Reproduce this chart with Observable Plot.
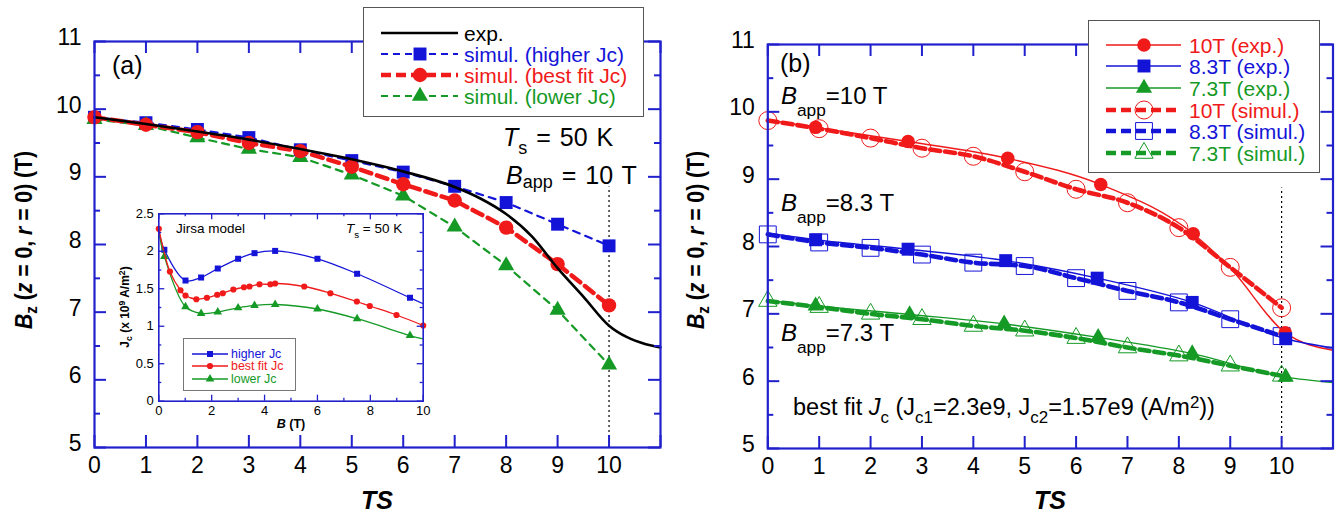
<!DOCTYPE html>
<html>
<head>
<meta charset="utf-8">
<script src="https://cdn.jsdelivr.net/npm/d3@7"></script>
<script src="https://cdn.jsdelivr.net/npm/@observablehq/plot@0.6"></script>
<style>
  body { margin: 0; background: #fff; }
  #fig { position: relative; width: 1339px; height: 517px; overflow: hidden;
         font-family: "Liberation Sans", Arial, sans-serif; color: #000; background: #fff; }
  #fig svg { position: absolute; overflow: visible; }
  .t { position: absolute; white-space: nowrap; line-height: 1; transform: translateY(-50%); }
  .t sub, .t sup { font-size: 0.72em; line-height: 0; }
  .box { position: absolute; background: #fff; box-sizing: border-box; }
</style>
</head>
<body>
<div id="fig"></div>
<script>
// ---------- Panel (a): simulated vs. measured centre field, T_s = 50 K, B_app = 10 T ----------
const tsSim       = [0, 1, 2, 3, 4, 5, 6, 7, 8, 9, 10];
const bzHigherJc  = [9.88, 9.80, 9.70, 9.58, 9.40, 9.24, 9.07, 8.86, 8.62, 8.30, 7.98];
const bzBestFitJc = [9.88, 9.77, 9.66, 9.50, 9.38, 9.15, 8.89, 8.65, 8.25, 7.71, 7.10];
const bzLowerJc   = [9.85, 9.76, 9.58, 9.41, 9.29, 9.03, 8.72, 8.26, 7.69, 7.03, 6.22];
const tsExpA = [0, 1, 2, 3, 4, 5, 6, 7, 7.5, 8, 8.5, 9, 9.5, 10, 10.35, 10.7, 11];
const bzExpA = [9.88, 9.78, 9.67, 9.55, 9.41, 9.26, 9.08, 8.85, 8.68, 8.45, 8.12, 7.65, 7.23, 6.80, 6.63, 6.53, 6.48];

// ---------- Inset: Jc(B) curves of the Jirsa model ----------
const higherB  = [0.21, 1.01, 1.60, 2.23, 3.00, 3.62, 4.40, 6.00, 7.50, 9.50];
const higherJc = [2.02, 1.61, 1.65, 1.77, 1.90, 1.975, 2.005, 1.90, 1.70, 1.38];
const higherEnds = [[0, 2.27], [10, 1.30]];
const bestB  = [0, 0.42, 0.82, 1.01, 1.42, 1.82, 2.21, 2.42, 2.82, 3.22, 3.43, 3.81, 4.22, 4.40, 5.50, 6.49, 7.49, 7.98, 8.99, 10];
const bestJc = [2.30, 1.73, 1.48, 1.41, 1.36, 1.38, 1.42, 1.44, 1.49, 1.52, 1.53, 1.56, 1.56, 1.57, 1.53, 1.44, 1.33, 1.27, 1.15, 1.01];
const lowerB  = [0.21, 1.01, 1.60, 2.23, 3.00, 3.62, 4.40, 6.00, 7.50, 9.50];
const lowerJc = [1.93, 1.26, 1.17, 1.19, 1.245, 1.277, 1.29, 1.23, 1.10, 0.876];
const lowerEnds = [[0, 2.27], [10, 0.83]];

// ---------- Panel (b): three applied fields, measured and simulated ----------
const tsExp10 = [0.93, 2.73, 4.67, 6.48, 8.28, 10.07];
const bzExp10 = [9.77, 9.56, 9.31, 8.92, 8.19, 6.72];
const tsExp83 = [0.93, 2.73, 4.63, 6.41, 8.26, 10.08];
const bzExp83 = [8.10, 7.96, 7.79, 7.53, 7.17, 6.63];
const tsExp73 = [0.93, 2.76, 4.60, 6.43, 8.26, 10.08];
const bzExp73 = [7.12, 6.99, 6.85, 6.65, 6.41, 6.06];
// smooth curves through the measurements, carried to both frame edges
const fitTs10 = [0, 0.93, 2.73, 4.67, 6.48, 8.28, 9.0, 10.07, 11];
const fitBz10 = [9.88, 9.77, 9.56, 9.31, 8.92, 8.19, 7.68, 6.72, 6.46];
const fitTs83 = [0, 0.93, 2.73, 4.63, 6.41, 8.26, 10.08, 11];
const fitBz83 = [8.20, 8.10, 7.96, 7.79, 7.53, 7.17, 6.63, 6.49];
const fitTs73 = [0, 0.93, 2.76, 4.60, 6.43, 8.26, 10.08, 11];
const fitBz73 = [7.20, 7.12, 6.99, 6.85, 6.65, 6.41, 6.06, 5.98];
const bzSim10 = [9.87, 9.75, 9.61, 9.46, 9.34, 9.11, 8.85, 8.65, 8.28, 7.69, 7.09];
const bzSim83 = [8.18, 8.06, 7.98, 7.88, 7.76, 7.71, 7.53, 7.34, 7.17, 6.92, 6.67];
const bzSim73 = [7.19, 7.10, 7.00, 6.92, 6.82, 6.75, 6.64, 6.50, 6.38, 6.23, 6.08];

// axis ticks
const tsTicks = [0, 1, 2, 3, 4, 5, 6, 7, 8, 9, 10];
const tsTickMarks = [0, 1, 2, 3, 4, 5, 6, 7, 8, 9, 10, 11];
const bzTicks = [5, 6, 7, 8, 9, 10, 11];
const bzMinor = [5.5, 6.5, 7.5, 8.5, 9.5, 10.5];
const bTicks = [0, 2, 4, 6, 8, 10];
const bMinor = [1, 3, 5, 7, 9];
const jcTicks = [0, 0.5, 1, 1.5, 2, 2.5];
const jcMinor = [0.25, 0.75, 1.25, 1.75, 2.25];
// last simulated step and the top of its guide line in each panel
const lastStep = 10, guideTopA = 8.85, guideTopB = 8.87;

// ---------- styling ----------
const FONT = '"Liberation Sans", Arial, sans-serif';
const AXIS = "#2020cc";
const RED = "#f01a1a", BLUE = "#1414d8", GREEN = "#169a26";
const fig = document.getElementById("fig");
const plain = d => String(d);

const pts = (xs, ys) => xs.map((x, i) => ({x, y: ys[i]}));

function frameTicks({xMajor, xMinor = [], yMajor, yMinor = [], iw, ih, major, minor, sw}) {
  const s = {stroke: AXIS, strokeWidth: sw};
  return [
    Plot.tickX(xMajor, {x: d => d, insetTop: ih - major, ...s}),
    Plot.tickX(xMajor, {x: d => d, insetBottom: ih - major, ...s}),
    Plot.tickX(xMinor, {x: d => d, insetTop: ih - minor, ...s}),
    Plot.tickX(xMinor, {x: d => d, insetBottom: ih - minor, ...s}),
    Plot.tickY(yMajor, {y: d => d, insetRight: iw - major, ...s}),
    Plot.tickY(yMajor, {y: d => d, insetLeft: iw - major, ...s}),
    Plot.tickY(yMinor, {y: d => d, insetRight: iw - minor, ...s}),
    Plot.tickY(yMinor, {y: d => d, insetLeft: iw - minor, ...s})
  ];
}

function place(svg, left, top) {
  svg.style.left = left + "px";
  svg.style.top = top + "px";
  fig.appendChild(svg);
}

function text(html, x, y, size, extra = "") {
  const d = document.createElement("div");
  d.className = "t";
  d.style.cssText = `left:${x}px;top:${y}px;font-size:${size}px;${extra}`;
  d.innerHTML = html;
  fig.appendChild(d);
  return d;
}

// ---------- panel (a) ----------
const A = {width: 670, height: 517, ml: 94, mr: 10, mt: 41, mb: 70};
const aiw = A.width - A.ml - A.mr, aih = A.height - A.mt - A.mb;
const simHigher = pts(tsSim, bzHigherJc), simBest = pts(tsSim, bzBestFitJc), simLower = pts(tsSim, bzLowerJc);
const expA = pts(tsExpA, bzExpA);

const plotA = Plot.plot({
  width: A.width, height: A.height,
  marginLeft: A.ml, marginRight: A.mr, marginTop: A.mt, marginBottom: A.mb,
  x: {domain: [0, 11]}, y: {domain: [5, 11]},
  style: {fontFamily: FONT, background: "none", overflow: "visible"},
  marks: [
    Plot.ruleX([lastStep], {y1: 5, y2: guideTopA, stroke: "#000", strokeWidth: 1.2, strokeDasharray: "2,3"}),
    Plot.line(simHigher, {x: "x", y: "y", stroke: BLUE, strokeWidth: 2.2, strokeDasharray: "7,6"}),
    Plot.dot(simHigher, {x: "x", y: "y", symbol: "square", r: 7.3, fill: BLUE}),
    Plot.line(simLower, {x: "x", y: "y", stroke: GREEN, strokeWidth: 2.2, strokeDasharray: "7,6"}),
    Plot.dot(simLower, {x: "x", y: "y", symbol: "triangle", r: 6, fill: GREEN}),
    Plot.line(simBest, {x: "x", y: "y", stroke: RED, strokeWidth: 4.5, strokeDasharray: "11,6"}),
    Plot.dot(simBest, {x: "x", y: "y", symbol: "circle", r: 7.2, fill: RED}),
    Plot.line(expA, {x: "x", y: "y", curve: "monotone-x", stroke: "#000", strokeWidth: 2.6}),
    ...frameTicks({xMajor: tsTickMarks, yMajor: bzTicks, yMinor: bzMinor, iw: aiw, ih: aih, major: 12, minor: 6, sw: 2}),
    Plot.frame({stroke: AXIS, strokeWidth: 2.2}),
    Plot.axisX(tsTicks, {anchor: "bottom", tickSize: 0, tickPadding: 9, fontSize: 23, label: null, tickFormat: plain}),
    Plot.axisY(bzTicks, {anchor: "left", tickSize: 0, tickPadding: 13, fontSize: 23, label: null, dy: -4, tickFormat: plain})
  ]
});
place(plotA, 0, 0);

// ---------- inset of panel (a) ----------
const I = {left: 100, top: 200, width: 330, height: 240, ml: 58.3, mr: 7.3, mt: 13.3, mb: 39.3};
const iiw = I.width - I.ml - I.mr, iih = I.height - I.mt - I.mb;
const hiPts = pts(higherB, higherJc), bestPts = pts(bestB, bestJc), loPts = pts(lowerB, lowerJc);
const hiLine = [{x: higherEnds[0][0], y: higherEnds[0][1]}, ...hiPts, {x: higherEnds[1][0], y: higherEnds[1][1]}];
const loLine = [{x: lowerEnds[0][0], y: lowerEnds[0][1]}, ...loPts, {x: lowerEnds[1][0], y: lowerEnds[1][1]}];

const inset = Plot.plot({
  width: I.width, height: I.height,
  marginLeft: I.ml, marginRight: I.mr, marginTop: I.mt, marginBottom: I.mb,
  x: {domain: [0, 10]}, y: {domain: [0, 2.5]},
  style: {fontFamily: FONT, background: "none", overflow: "visible"},
  marks: [
    Plot.frame({fill: "#fff"}),
    Plot.line(hiLine, {x: "x", y: "y", curve: "catmull-rom", stroke: BLUE, strokeWidth: 1.3}),
    Plot.dot(hiPts, {x: "x", y: "y", symbol: "square", r: 3.4, fill: BLUE}),
    Plot.line(loLine, {x: "x", y: "y", curve: "catmull-rom", stroke: GREEN, strokeWidth: 1.3}),
    Plot.dot(loPts, {x: "x", y: "y", symbol: "triangle", r: 3.2, fill: GREEN}),
    Plot.line(bestPts, {x: "x", y: "y", curve: "catmull-rom", stroke: RED, strokeWidth: 1.3}),
    Plot.dot(bestPts, {x: "x", y: "y", symbol: "circle", r: 3.1, fill: RED}),
    ...frameTicks({xMajor: bTicks, xMinor: bMinor, yMajor: jcTicks, yMinor: jcMinor, iw: iiw, ih: iih, major: 6, minor: 3, sw: 1.3}),
    Plot.frame({stroke: AXIS, strokeWidth: 1.6}),
    Plot.axisX(bTicks, {anchor: "bottom", tickSize: 0, tickPadding: 5, fontSize: 13, label: null, tickFormat: plain}),
    Plot.axisY(jcTicks, {anchor: "left", tickSize: 0, tickPadding: 5, fontSize: 13, label: null, tickFormat: plain})
  ]
});
place(inset, I.left, I.top);

// ---------- panel (b) ----------
const B = {left: 670, width: 669, height: 517, ml: 97.3, mr: 6.5, mt: 44, mb: 69};
const biw = B.width - B.ml - B.mr, bih = B.height - B.mt - B.mb;
const sim10 = pts(tsSim, bzSim10), sim83 = pts(tsSim, bzSim83), sim73 = pts(tsSim, bzSim73);
const exp10 = pts(tsExp10, bzExp10), exp83 = pts(tsExp83, bzExp83), exp73 = pts(tsExp73, bzExp73);
const fit10 = pts(fitTs10, fitBz10), fit83 = pts(fitTs83, fitBz83), fit73 = pts(fitTs73, fitBz73);
const dash = {strokeWidth: 4.6, strokeDasharray: "10,5", curve: "monotone-x"};

const plotB = Plot.plot({
  width: B.width, height: B.height,
  marginLeft: B.ml, marginRight: B.mr, marginTop: B.mt, marginBottom: B.mb,
  x: {domain: [0, 11]}, y: {domain: [5, 11]},
  style: {fontFamily: FONT, background: "none", overflow: "visible"},
  marks: [
    Plot.ruleX([lastStep], {y1: 5, y2: guideTopB, stroke: "#000", strokeWidth: 1.2, strokeDasharray: "2,3"}),
    Plot.line(sim73, {x: "x", y: "y", stroke: GREEN, ...dash}),
    Plot.line(sim83, {x: "x", y: "y", stroke: BLUE, ...dash}),
    Plot.line(sim10, {x: "x", y: "y", stroke: RED, ...dash}),
    Plot.dot(sim73, {x: "x", y: "y", symbol: "triangle", r: 6.8, fill: "none", stroke: GREEN, strokeWidth: 1}),
    Plot.dot(sim83, {x: "x", y: "y", symbol: "square", r: 9.5, fill: "none", stroke: BLUE, strokeWidth: 1}),
    Plot.dot(sim10, {x: "x", y: "y", symbol: "circle", r: 9, fill: "none", stroke: RED, strokeWidth: 1}),
    Plot.line(fit73, {x: "x", y: "y", curve: "monotone-x", stroke: GREEN, strokeWidth: 1.4}),
    Plot.line(fit10, {x: "x", y: "y", curve: "monotone-x", stroke: RED, strokeWidth: 1.4}),
    Plot.line(fit83, {x: "x", y: "y", curve: "monotone-x", stroke: BLUE, strokeWidth: 1.4}),
    Plot.dot(exp73, {x: "x", y: "y", symbol: "triangle", r: 6, fill: GREEN}),
    Plot.dot(exp10, {x: "x", y: "y", symbol: "circle", r: 6.8, fill: RED}),
    Plot.dot(exp83, {x: "x", y: "y", symbol: "square", r: 7.3, fill: BLUE}),
    ...frameTicks({xMajor: tsTickMarks, yMajor: bzTicks, yMinor: bzMinor, iw: biw, ih: bih, major: 12, minor: 6, sw: 2}),
    Plot.frame({stroke: AXIS, strokeWidth: 2.2}),
    Plot.axisX(tsTicks, {anchor: "bottom", tickSize: 0, tickPadding: 9, fontSize: 23, label: null, tickFormat: plain}),
    Plot.axisY(bzTicks, {anchor: "left", tickSize: 0, tickPadding: 13, fontSize: 23, label: null, dy: -4, tickFormat: plain})
  ]
});
place(plotB, B.left, 0);

// ---------- legends ----------
function legend(entries, o) {
  const box = document.createElement("div");
  box.className = "box";
  box.style.cssText = `left:${o.left}px;top:${o.top}px;width:${o.width}px;height:${o.height}px;border:${o.border};`;
  fig.appendChild(box);
  entries.forEach((e, i) => {
    const cy = o.rowTop + i * o.rowGap;
    const w = o.lineX1 - o.lineX0;
    const svg = d3.create("svg").attr("width", w).attr("height", 24)
      .style("left", (o.lineX0 - o.left) + "px").style("top", (cy - o.top - 12) + "px");
    svg.append("line").attr("x1", 0).attr("x2", w).attr("y1", 12).attr("y2", 12)
      .attr("stroke", e.stroke).attr("stroke-width", e.width)
      .attr("stroke-dasharray", e.dash || null);
    if (e.symbol) {
      svg.append("path")
        .attr("d", d3.symbol(e.symbol, Math.PI * e.r * e.r)())
        .attr("transform", `translate(${o.markX - o.lineX0},12)`)
        .attr("fill", e.open ? "none" : e.stroke)
        .attr("stroke", e.open ? e.stroke : "none").attr("stroke-width", 1);
    }
    box.appendChild(svg.node());
    const t = document.createElement("div");
    t.className = "t";
    t.style.cssText = `left:${o.textX - o.left}px;top:${cy - o.top}px;font-size:${o.fontSize}px;color:${e.color};`;
    t.textContent = e.label;
    box.appendChild(t);
  });
}

legend([
  {label: "exp.", color: "#000", stroke: "#000", width: 2.5},
  {label: "simul. (higher Jc)", color: BLUE, stroke: BLUE, width: 2.2, dash: "7,5", symbol: d3.symbolSquare, r: 7.3},
  {label: "simul. (best fit Jc)", color: RED, stroke: RED, width: 4.5, dash: "10,5", symbol: d3.symbolCircle, r: 7.2},
  {label: "simul. (lower Jc)", color: GREEN, stroke: GREEN, width: 2.2, dash: "7,5", symbol: d3.symbolTriangle, r: 6}
], {left: 363, top: 7, width: 281, height: 110, border: "1.5px solid #555",
    rowTop: 31.5, rowGap: 21.2, lineX0: 380, lineX1: 457, markX: 419, textX: 463, fontSize: 21});

legend([
  {label: "10T (exp.)", color: RED, stroke: RED, width: 1.4, symbol: d3.symbolCircle, r: 6.8},
  {label: "8.3T (exp.)", color: BLUE, stroke: BLUE, width: 1.4, symbol: d3.symbolSquare, r: 7.3},
  {label: "7.3T (exp.)", color: GREEN, stroke: GREEN, width: 1.4, symbol: d3.symbolTriangle, r: 6},
  {label: "10T (simul.)", color: RED, stroke: RED, width: 4.6, dash: "10,5", symbol: d3.symbolCircle, r: 9, open: true},
  {label: "8.3T (simul.)", color: BLUE, stroke: BLUE, width: 4.6, dash: "10,5", symbol: d3.symbolSquare, r: 9.5, open: true},
  {label: "7.3T (simul.)", color: GREEN, stroke: GREEN, width: 4.6, dash: "10,5", symbol: d3.symbolTriangle, r: 6.8, open: true}
], {left: 1088, top: 20, width: 232, height: 153, border: "1.5px solid #555",
    rowTop: 43.5, rowGap: 21.7, lineX0: 1105, lineX1: 1180, markX: 1143, textX: 1188, fontSize: 21});

legend([
  {label: "higher Jc", color: BLUE, stroke: BLUE, width: 1.3, symbol: d3.symbolSquare, r: 3.4},
  {label: "best fit Jc", color: RED, stroke: RED, width: 1.3, symbol: d3.symbolCircle, r: 3.1},
  {label: "lower Jc", color: GREEN, stroke: GREEN, width: 1.3, symbol: d3.symbolTriangle, r: 3.2}
], {left: 183, top: 338, width: 113, height: 53, border: "1.2px solid #777",
    rowTop: 352.5, rowGap: 12.8, lineX0: 191, lineX1: 227, markX: 209, textX: 230, fontSize: 12.4});

// ---------- annotations and axis titles ----------
const yTitle = `<i>B</i><sub style="vertical-align:-0.35em">z</sub> (<i>z</i> = 0, <i>r</i> = 0) (T)`;
text(yTitle, 23.6, 240, 23, "font-weight:bold;transform:translate(-50%,-50%) rotate(-90deg) scale(0.92,1);");
text(yTitle, 695.7, 240, 23, "font-weight:bold;transform:translate(-50%,-50%) rotate(-90deg) scale(0.92,1);");
text("<i>TS</i>", 377, 500, 25, "font-weight:bold;transform:translate(-50%,-50%);");
text("<i>TS</i>", 1050, 500, 25, "font-weight:bold;transform:translate(-50%,-50%);");

text("(a)", 112, 65, 25);
text(`<i>T</i><sub style="vertical-align:-0.48em">s</sub> = 50 K`, 503, 137, 25, "word-spacing:2px;");
text(`<i>B</i><sub style="vertical-align:-0.25em">app</sub> = 10 T`, 506, 175, 25, "word-spacing:2px;");

text("Jirsa model", 176, 229, 13.5);
text(`<i>T</i><sub style="vertical-align:-0.45em">s</sub> = 50 K`, 346, 229, 13.5);
text(`J<sub style="vertical-align:-0.35em">c</sub> (x 10<sup style="vertical-align:0.45em">9</sup> A/m<sup style="vertical-align:0.45em">2</sup>)`,
     125, 307, 12, "font-weight:bold;transform:translate(-50%,-50%) rotate(-90deg);");
text("<i>B</i> (T)", 291, 424, 12.5, "font-weight:bold;transform:translate(-50%,-50%);");

text("(b)", 780, 63, 25);
text(`<i>B</i><sub style="vertical-align:-0.7em">app</sub>=10 T`, 781, 97, 24);
text(`<i>B</i><sub style="vertical-align:-0.7em">app</sub>=8.3 T`, 781, 204, 24);
text(`<i>B</i><sub style="vertical-align:-0.7em">app</sub>=7.3 T`, 781, 334, 24);
text(`best fit <i>J</i><sub style="vertical-align:-0.48em">c</sub> (J<sub style="vertical-align:-0.48em">c1</sub>=2.3e9, J<sub style="vertical-align:-0.48em">c2</sub>=1.57e9 (A/m<sup style="vertical-align:0.4em">2</sup>))`,
     793, 408, 23.5);
</script>
</body>
</html>
